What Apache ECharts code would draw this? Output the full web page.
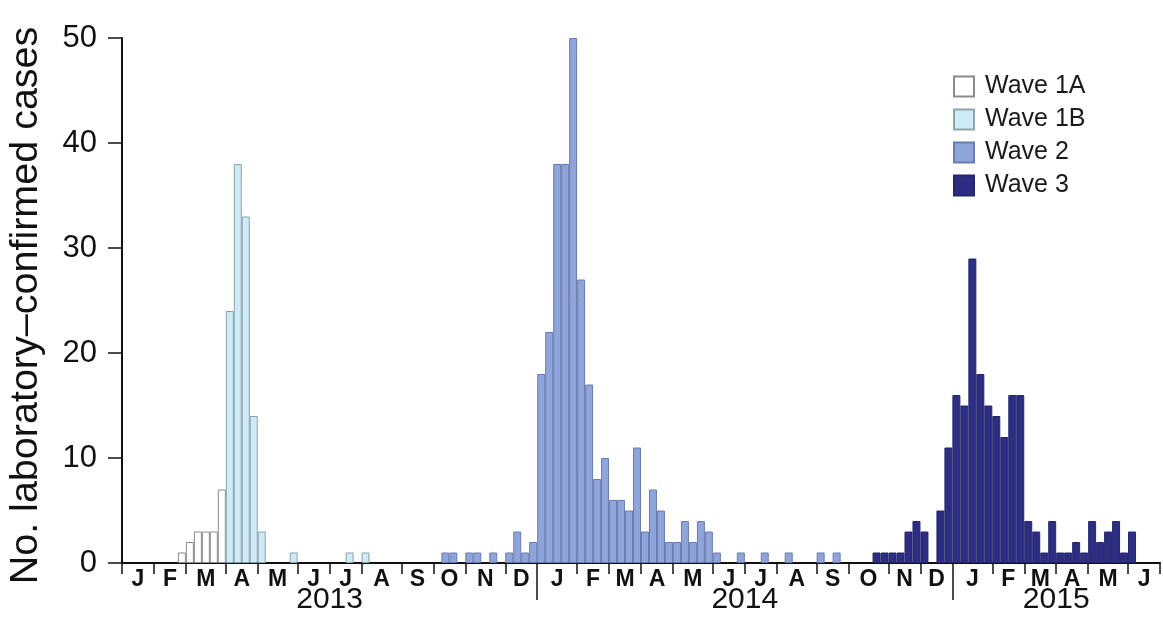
<!DOCTYPE html>
<html><head><meta charset="utf-8">
<script src="https://cdn.jsdelivr.net/npm/echarts@6/dist/echarts.min.js"></script>
<style>html,body{margin:0;padding:0;background:#fff}#c{width:1163px;height:628px}</style>
</head><body><div id="c"></div>
<script>
// ---- data (weekly counts, week 0 = first week of Jan 2013) ----
const weekCount = 130;
const seriesNames = ['Wave 1A', 'Wave 1B', 'Wave 2', 'Wave 3'];
const wave1AStart = 7;
const wave1A = [1, 2, 3, 3, 3, 7];
const wave1BStart = 13;
const wave1B = [24, 38, 33, 14, 3, 0, 0, 0, 1, 0, 0, 0, 0, 0, 0, 1, 0, 1];
const wave2Start = 40;
const wave2 = [1, 1, 0, 1, 1, 0, 1, 0, 1, 3, 1, 2, 18, 22, 38, 38, 50, 27, 17, 8, 10, 6, 6, 5, 11, 3, 7, 5, 2, 2, 4, 2, 4, 3, 1, 0, 0, 1, 0, 0, 1, 0, 0, 1, 0, 0, 0, 1, 0, 1];
const wave3Start = 94;
const wave3 = [1, 1, 1, 1, 3, 4, 3, 0, 5, 11, 16, 15, 29, 18, 15, 14, 12, 16, 16, 4, 3, 1, 4, 1, 1, 2, 1, 4, 2, 3, 4, 1, 3];

// month boundaries (week index where each month starts) and labels
const monthStarts = [0, 4, 8, 13, 17, 22, 26, 30, 35, 39, 43, 48,
                     52, 57, 61, 65, 69, 74, 78, 82, 87, 91, 96, 100,
                     104, 109, 113, 117, 121, 126, 130];
const monthLetters = ['J','F','M','A','M','J','J','A','S','O','N','D',
                      'J','F','M','A','M','J','J','A','S','O','N','D',
                      'J','F','M','A','M','J'];
const yearStarts = [0, 52, 104, 130];
const yearLabels = ['2013', '2014', '2015'];
const yTicks = { min: 0, max: 50, interval: 10 };

// ---- build ----
function fill(start, vals) {
  const d = new Array(weekCount).fill(null);
  vals.forEach((v, i) => { if (v > 0) d[start + i] = v; });
  return d;
}
const weeks = Array.from({ length: weekCount }, (_, i) => String(i));
const monthMids = [];
const monthMap = {};
for (let i = 0; i < monthLetters.length; i++) {
  const m = (monthStarts[i] + monthStarts[i + 1]) / 2;
  monthMids.push(m); monthMap[m] = monthLetters[i];
}
const yearMids = [];
const yearMap = {};
for (let i = 0; i < yearLabels.length; i++) {
  const m = (yearStarts[i] + yearStarts[i + 1]) / 2;
  yearMids.push(m); yearMap[m] = yearLabels[i];
}
const styles = [
  { color: '#ffffff', borderColor: '#8a8a8a' },
  { color: '#cdeaf5', borderColor: '#8aa3ad' },
  { color: '#8ea4da', borderColor: '#6a7cae' },
  { color: '#2b2e82', borderColor: '#25276e' }
];
const datas = [fill(wave1AStart, wave1A), fill(wave1BStart, wave1B), fill(wave2Start, wave2), fill(wave3Start, wave3)];

const font = 'Liberation Sans, Arial, Helvetica, sans-serif';
const chart = echarts.init(document.getElementById('c'));
chart.setOption({
  animation: false,
  backgroundColor: '#fff',
  textStyle: { fontFamily: font, color: '#111' },
  grid: { left: 122, right: 3, top: 38, bottom: 65, containLabel: false, outerBoundsMode: 'none' },
  legend: {
    data: seriesNames, orient: 'vertical', left: 948, top: 69,
    itemWidth: 20, itemHeight: 20, itemGap: 8, icon: 'rect',
    textStyle: { fontSize: 25, color: '#1a1a1a', fontFamily: font, padding: [0, 0, 0, 6] }
  },
  xAxis: [
    { type: 'category', data: weeks, boundaryGap: true,
      axisLine: { show: true, lineStyle: { color: '#111', width: 2 } },
      axisTick: { show: false }, axisLabel: { show: false }, splitLine: { show: false } },
    { type: 'value', min: 0, max: weekCount, position: 'bottom',
      axisLine: { show: false }, splitLine: { show: false },
      axisTick: { show: true, customValues: monthStarts, length: 11, lineStyle: { color: '#111', width: 1.5 } },
      axisLabel: { customValues: monthMids, formatter: v => monthMap[v] || '', margin: 5,
        fontSize: 23, fontWeight: 'bold', color: '#111', fontFamily: font } },
    { type: 'value', min: 0, max: weekCount, position: 'bottom',
      axisLine: { show: false }, splitLine: { show: false },
      axisTick: { show: true, customValues: [yearStarts[1], yearStarts[2]], length: 37, lineStyle: { color: '#111', width: 1.5 } },
      axisLabel: { customValues: yearMids, formatter: v => yearMap[v] || '', margin: 22,
        fontSize: 30, color: '#111', fontFamily: font } }
  ],
  yAxis: {
    type: 'value', min: yTicks.min, max: yTicks.max, interval: yTicks.interval,
    name: 'No. laboratory\u2013confirmed cases', nameLocation: 'middle', nameGap: 76,
    nameTextStyle: { fontSize: 39.5, color: '#111', fontFamily: font, padding: [0, 10, 0, 0] },
    axisLine: { show: true, lineStyle: { color: '#111', width: 2 } },
    axisTick: { show: true, length: 14, lineStyle: { color: '#111', width: 1.5 } },
    axisLabel: { fontSize: 31, margin: 25, color: '#111', fontFamily: font },
    splitLine: { show: false }
  },
  series: seriesNames.map((n, i) => ({
    name: n, type: 'bar', stack: 'w', xAxisIndex: 0, yAxisIndex: 0,
    barCategoryGap: 0, data: datas[i],
    itemStyle: { color: styles[i].color, borderColor: styles[i].borderColor, borderWidth: 1 }
  }))
});
</script></body></html>
